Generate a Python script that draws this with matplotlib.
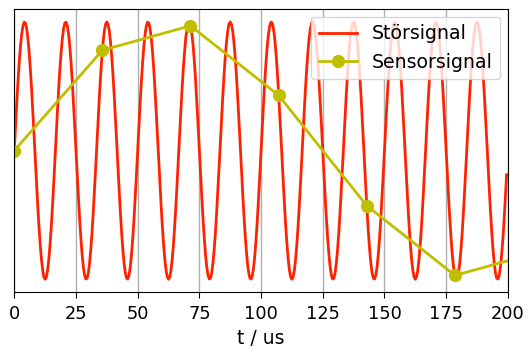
import numpy as np
import matplotlib
matplotlib.use("Agg")
import matplotlib.pyplot as plt

# Störsignal: sinusoid parameters (period ~16.7 us)
stoer_freq_khz = 60.0
stoer_amplitude = 1.0

# Sensorsignal samples
sensor_t = [0.0, 35.7, 71.4, 107.1, 142.9, 178.6, 214.3]
sensor_y = [0.0, 0.78, 0.97, 0.43, -0.43, -0.97, -0.78]

xticks = [0, 25, 50, 75, 100, 125, 150, 175, 200]

t = np.arange(0, 200, 0.5)
stoer = stoer_amplitude * np.sin(2 * np.pi * stoer_freq_khz * 1e3 * t * 1e-6)

fig, ax = plt.subplots(figsize=(5.29, 3.49), dpi=100)
ax.plot(t, stoer, color='#ff2200', lw=2, label='Störsignal')
ax.plot(sensor_t, sensor_y, color='#bfbf00', lw=2, marker='o', ms=8.5, label='Sensorsignal')
ax.set_xlim(0, 200)
ax.set_ylim(-1.1, 1.1)
ax.set_xticks(xticks)
ax.set_yticks([])
ax.grid(axis='x', color='#b0b0b0', lw=1)
ax.tick_params(axis='x', labelsize=12.8, pad=5, length=4.5)
ax.set_xlabel('t / us', fontsize=13.5, labelpad=4)
ax.legend(loc='upper right', fontsize=13.6, framealpha=0.8, borderaxespad=0.4)
fig.subplots_adjust(left=0.027, right=0.96, top=0.974, bottom=0.163)
fig.savefig('out.png', dpi=100)
